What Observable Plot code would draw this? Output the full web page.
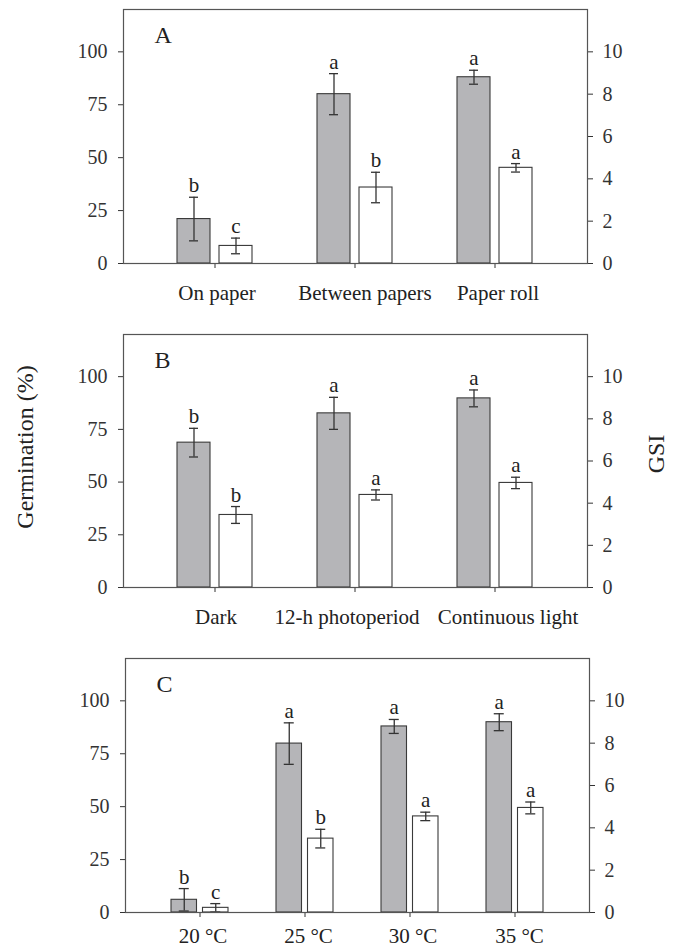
<!DOCTYPE html>
<html>
<head>
<meta charset="utf-8">
<script src="https://cdn.jsdelivr.net/npm/d3@7"></script>
<script src="https://cdn.jsdelivr.net/npm/@observablehq/plot@0.6"></script>
<style>
  html, body { margin: 0; padding: 0; background: #fff; }
  #root { position: relative; width: 675px; height: 949px; overflow: hidden; background: #fff; font-family: 'Liberation Serif', 'Times New Roman', serif; color: #222; }
  .panel { position: absolute; left: 0; }
  .ylab { position: absolute; font-size: 24px; white-space: nowrap; transform: translate(-50%, -50%) rotate(-90deg); }
</style>
</head>
<body>
<div id="root">
  <div class="panel" id="pA" style="top:0px"></div>
  <div class="panel" id="pB" style="top:325px"></div>
  <div class="panel" id="pC" style="top:649px"></div>
  <div class="ylab" style="left:25px; top:447px;">Germination (%)</div>
  <div class="ylab" style="left:656px; top:454px;">GSI</div>
</div>
<script>
// Panel A: substrate
const catsA = ["On paper", "Between papers", "Paper roll"];
const germA = [21, 80, 88];
const germErrA = [10.3, 9.7, 3.3];
const gsiA = [0.83, 3.59, 4.52];
const gsiErrA = [0.37, 0.72, 0.2];
const lettersGermA = ["b", "a", "a"];
const lettersGsiA = ["c", "b", "a"];

// Panel B: light
const catsB = ["Dark", "12-h photoperiod", "Continuous light"];
const germB = [68.7, 82.6, 89.7];
const germErrB = [6.8, 7.6, 4.0];
const gsiB = [3.44, 4.39, 4.96];
const gsiErrB = [0.4, 0.24, 0.27];
const lettersGermB = ["b", "a", "a"];
const lettersGsiB = ["b", "a", "a"];

// Panel C: temperature
const catsC = ["20 °C", "25 °C", "30 °C", "35 °C"];
const germC = [6.0, 79.8, 87.9, 89.9];
const germErrC = [5.3, 9.8, 3.3, 4.0];
const gsiC = [0.22, 3.49, 4.54, 4.94];
const gsiErrC = [0.2, 0.44, 0.2, 0.28];
const lettersGermC = ["b", "a", "a", "a"];
const lettersGsiC = ["c", "b", "a", "a"];

const germTicks = [0, 25, 50, 75, 100];
const gsiTicks = [0, 2, 4, 6, 8, 10];
const GSI_FACTOR = 10; // right axis: GSI 10 aligns with 100 %

const FONT = "'Liberation Serif', 'Times New Roman', serif";
const INK = "#333";

function panel(cfg) {
  const rows = cfg.cats.map((c, i) => ({
    c,
    g: cfg.germ[i], ge: cfg.germErr[i],
    s: cfg.gsi[i] * GSI_FACTOR, se: cfg.gsiErr[i] * GSI_FACTOR,
    lg: cfg.lg[i], ls: cfg.ls[i]
  }));
  const bw = cfg.bw, barW = cfg.barW;
  const off = bw / 2 - barW / 2;
  const capL = barW / 2 - 5, capR = bw - barW / 2 - 5;
  const errStyle = {stroke: INK, strokeWidth: 1.3};
  const labelMarks = cfg.cats.map((c, i) =>
    Plot.text([c], {x: d => d, text: d => d, frameAnchor: "bottom", lineAnchor: "bottom",
      dy: cfg.xBase, dx: cfg.labelDx[i], fontSize: 21, fill: "#222"}));
  return Plot.plot({
    width: 675,
    height: cfg.marginTop + cfg.plotH + cfg.marginBottom,
    marginLeft: cfg.ml, marginRight: cfg.mr,
    marginTop: cfg.marginTop, marginBottom: cfg.marginBottom,
    style: {fontFamily: FONT, fontSize: "20px", color: INK, background: "transparent", overflow: "visible"},
    x: {type: "band", domain: cfg.cats, paddingInner: cfg.pi, paddingOuter: cfg.po},
    y: {domain: [0, 120]},
    marks: [
      Plot.barY(rows, {x: "c", y: "g", fill: "#b5b5b8", stroke: "#3a3a3a", strokeWidth: 1.1, insetLeft: 0, insetRight: bw - barW}),
      Plot.barY(rows, {x: "c", y: "s", fill: "#ffffff", stroke: "#3a3a3a", strokeWidth: 1.1, insetLeft: bw - barW, insetRight: 0}),
      Plot.ruleX(rows, {x: "c", y1: d => Math.max(0, d.g - d.ge), y2: d => d.g + d.ge, dx: -off, ...errStyle}),
      Plot.tickY(rows, {x: "c", y: d => d.g + d.ge, insetLeft: capL, insetRight: capR, ...errStyle}),
      Plot.tickY(rows, {x: "c", y: d => Math.max(0, d.g - d.ge), insetLeft: capL, insetRight: capR, ...errStyle}),
      Plot.ruleX(rows, {x: "c", y1: d => Math.max(0, d.s - d.se), y2: d => d.s + d.se, dx: off, ...errStyle}),
      Plot.tickY(rows, {x: "c", y: d => d.s + d.se, insetLeft: capR, insetRight: capL, ...errStyle}),
      Plot.tickY(rows, {x: "c", y: d => Math.max(0, d.s - d.se), insetLeft: capR, insetRight: capL, ...errStyle}),
      Plot.text(rows, {x: "c", y: d => d.g + d.ge, text: "lg", dx: -off, dy: -5, lineAnchor: "bottom", fontSize: 21, fill: "#222"}),
      Plot.text(rows, {x: "c", y: d => d.s + d.se, text: "ls", dx: off, dy: -5, lineAnchor: "bottom", fontSize: 21, fill: "#222"}),
      Plot.axisY({ticks: germTicks, tickSize: 5, tickPadding: 11, label: null, fontSize: 20}),
      Plot.axisY({anchor: "right", ticks: gsiTicks.map(t => t * GSI_FACTOR), tickFormat: d => String(d / GSI_FACTOR), tickSize: 5, tickPadding: 10, label: null, fontSize: 20}),
      Plot.axisX({tickSize: 5, tickFormat: () => "", label: null}),
      ...labelMarks,
      Plot.frame({stroke: "#555", strokeWidth: 1.2}),
      Plot.text([cfg.label], {frameAnchor: "top-left", dx: 31, dy: 33, lineAnchor: "bottom", textAnchor: "start", fontSize: 24, fill: "#222"})
    ]
  });
}

document.getElementById("pA").append(panel({
  cats: catsA, germ: germA, germErr: germErrA, gsi: gsiA, gsiErr: gsiErrA, lg: lettersGermA, ls: lettersGsiA,
  label: "A", ml: 123, mr: 88, marginTop: 9, plotH: 254, marginBottom: 50,
  pi: 0.461, po: 0.376, bw: 76, barW: 34, xBase: 36, labelDx: [2, 10, 3]
}));
document.getElementById("pB").append(panel({
  cats: catsB, germ: germB, germErr: germErrB, gsi: gsiB, gsiErr: gsiErrB, lg: lettersGermB, ls: lettersGsiB,
  label: "B", ml: 123, mr: 88, marginTop: 9, plotH: 253, marginBottom: 50,
  pi: 0.461, po: 0.376, bw: 76, barW: 34, xBase: 36, labelDx: [1, -8, 13]
}));
document.getElementById("pC").append(panel({
  cats: catsC, germ: germC, germErr: germErrC, gsi: gsiC, gsiErr: gsiErrC, lg: lettersGermC, ls: lettersGsiC,
  label: "C", ml: 125, mr: 86, marginTop: 9, plotH: 254, marginBottom: 37,
  pi: 0.459, po: 0.4325, bw: 57, barW: 25.5, xBase: 30, labelDx: [3, 3.5, 3, 4.5]
}));
</script>
</body>
</html>
